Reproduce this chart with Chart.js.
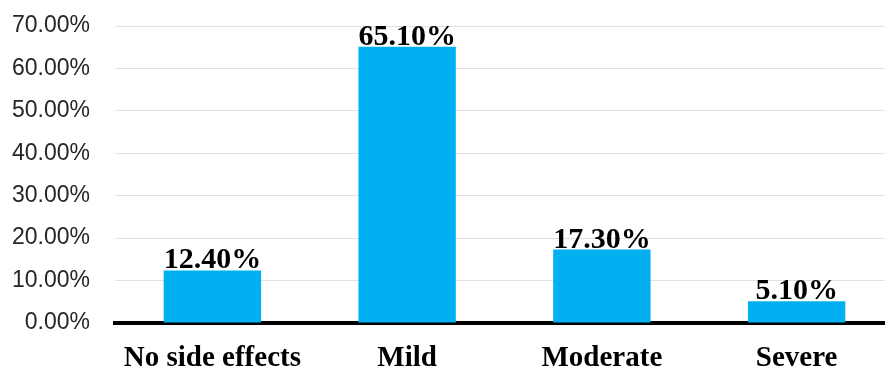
<!DOCTYPE html>
<html>
<head>
<meta charset="utf-8">
<script src="https://cdn.jsdelivr.net/npm/chart.js@4.4.0/dist/chart.umd.min.js"></script>
<style>
    html, body { margin: 0; padding: 0; overflow: hidden; background: #fff; }
    #wrap { width: 894px; height: 370px; }
</style>
</head>
<body>
<div id="wrap"><canvas id="sideEffects"></canvas></div>
<script>
var categories = ["No side effects", "Mild", "Moderate", "Severe"];
var percentages = [12.4, 65.1, 17.3, 5.1];
var yTicks = [0, 10, 20, 30, 40, 50, 60, 70];

// labels on top of the bars
var barLabels = {
    id: 'barLabels',
    afterDatasetsDraw: function(chart) {
        var ctx = chart.ctx;
        var meta = chart.getDatasetMeta(0);
        ctx.save();
        ctx.font = 'bold 30px "Liberation Serif", "Times New Roman", serif';
        ctx.fillStyle = '#000';
        ctx.textAlign = 'center';
        ctx.textBaseline = 'alphabetic';
        meta.data.forEach(function(bar, i) {
            ctx.fillText(percentages[i].toFixed(2) + '%', bar.x, bar.y - 2);
        });
        ctx.restore();
    }
};

var ctx = document.getElementById('sideEffects').getContext('2d');
var chart = new Chart(ctx, {
    type: 'bar',
    data: {
        labels: categories,
        datasets: [{
            data: percentages,
            backgroundColor: '#00B0F0',
            borderWidth: 0,
            barPercentage: 0.5,
            categoryPercentage: 1
        }]
    },
    options: {
        responsive: true,
        maintainAspectRatio: false,
        animation: false,
        layout: { padding: { top: 26, right: 0, bottom: 0, left: 0 } },
        plugins: {
            legend: { display: false },
            tooltip: { enabled: false }
        },
        scales: {
            x: {
                grid: { display: false, drawTicks: false },
                border: { color: '#000', width: 4 },
                ticks: {
                    color: '#000',
                    padding: 18,
                    maxRotation: 0,
                    font: { family: '"Liberation Serif", "Times New Roman", serif', size: 29, weight: 'bold' }
                },
                afterFit: function(scale) { scale.height = 47; }
            },
            y: {
                min: 0,
                max: 70,
                afterBuildTicks: function(scale) {
                    scale.ticks = yTicks.map(function(v) { return { value: v }; });
                },
                grid: { color: '#dde1e9', lineWidth: 1, drawTicks: false },
                border: { display: false },
                ticks: {
                    color: '#262626',
                    padding: 25,
                    font: { family: '"Liberation Sans", Arial, sans-serif', size: 23 },
                    callback: function(v) { return v.toFixed(2) + '%'; }
                },
                afterFit: function(scale) {
                    scale.width = 115;
                    scale.paddingTop = 0;
                    scale.paddingBottom = 0;
                }
            }
        }
    },
    plugins: [barLabels]
});
</script>
</body>
</html>
